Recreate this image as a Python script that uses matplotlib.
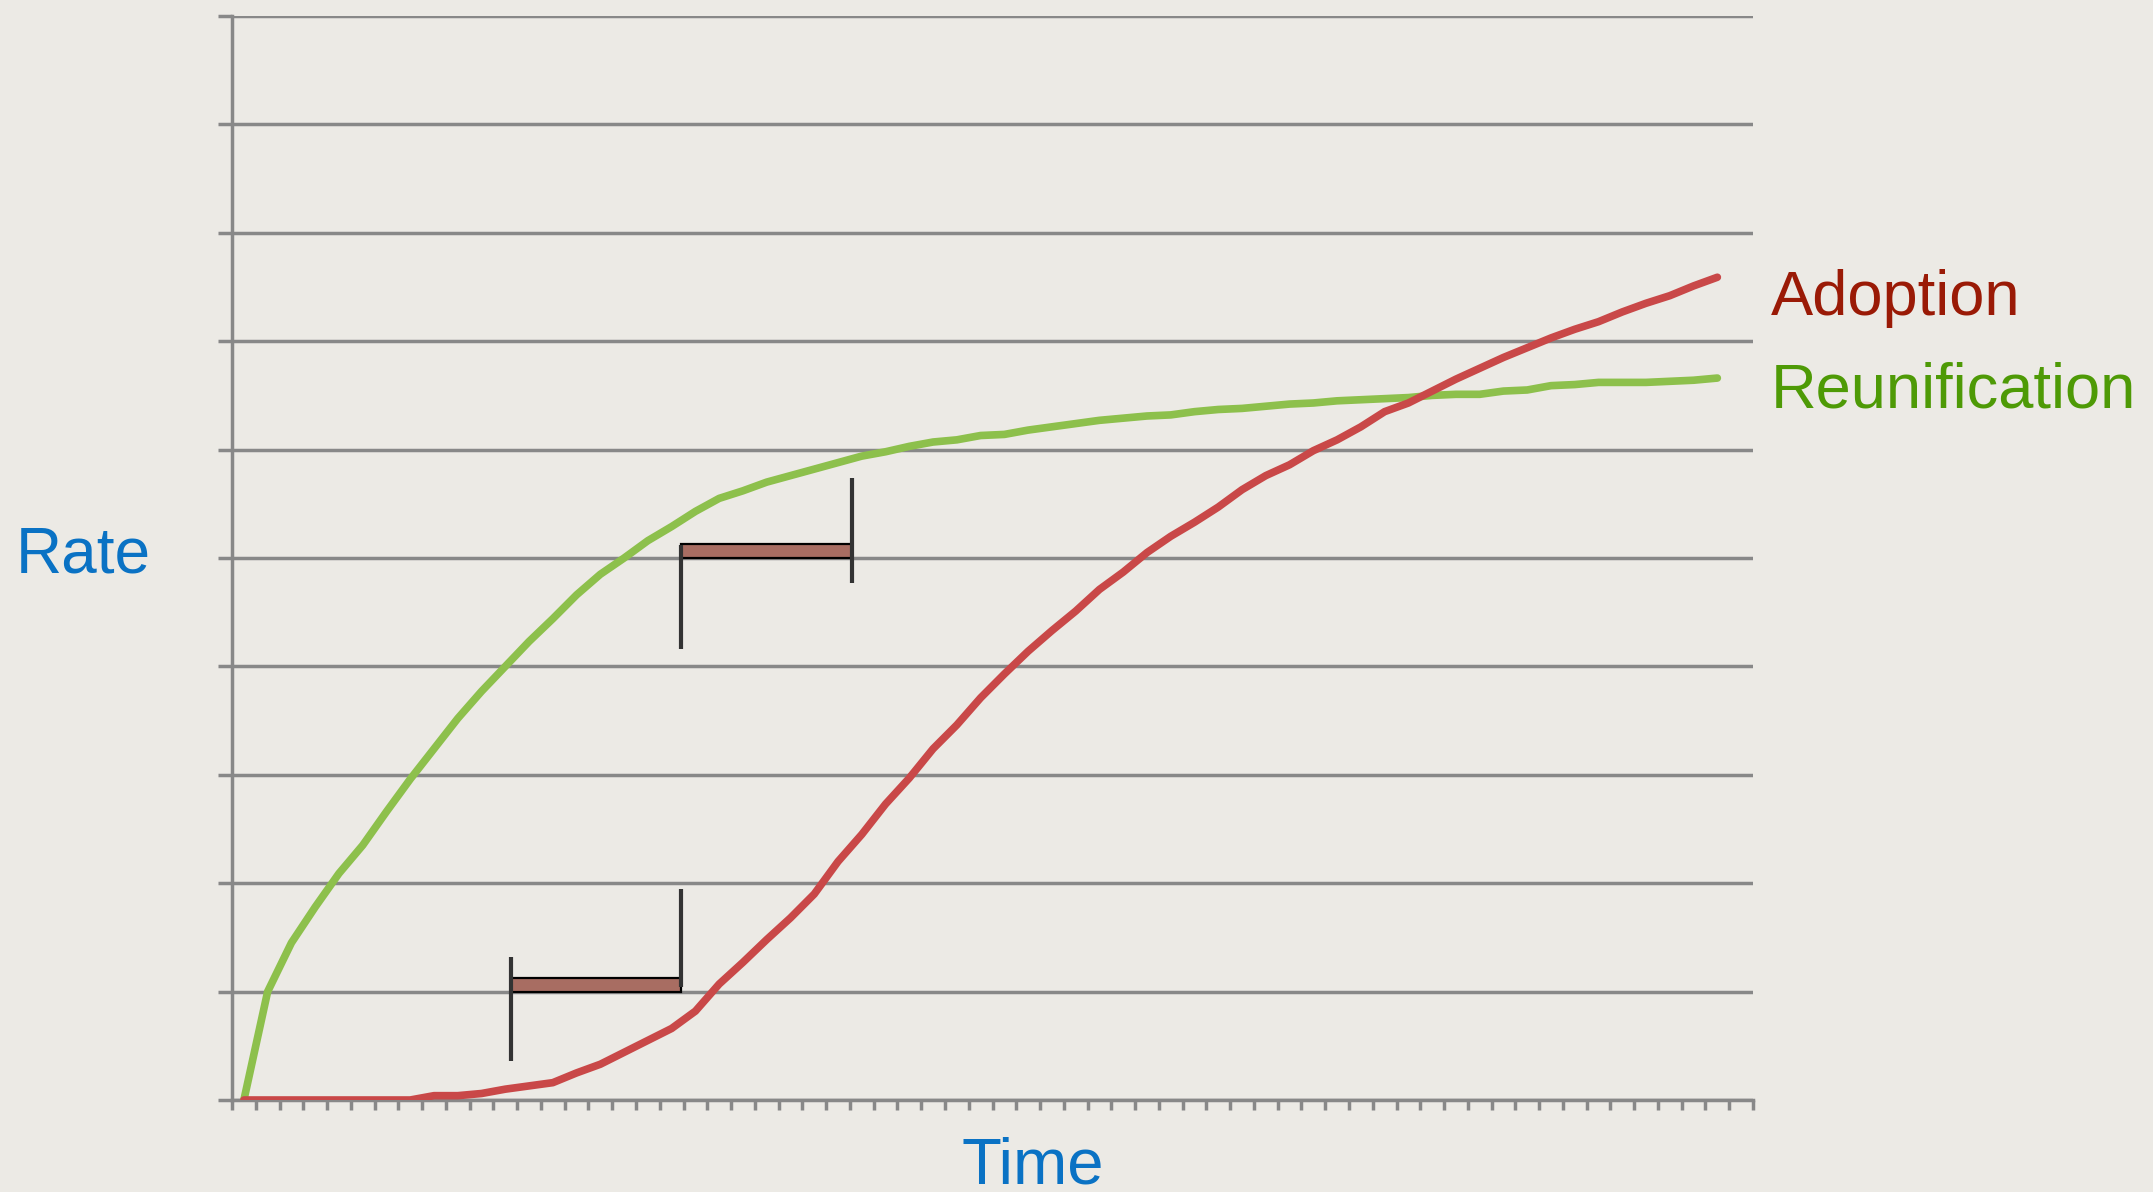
import matplotlib
matplotlib.use("Agg")
import matplotlib.pyplot as plt
import numpy as np
from matplotlib.patches import Rectangle

# ---- data ----
n_categories = 64
adoption = [0, 0, 0, 0, 0, 0, 0, 0, 0.04, 0.04,
            0.06, 0.10, 0.13, 0.16, 0.25, 0.33, 0.44, 0.55, 0.66, 0.82,
            1.07, 1.27, 1.48, 1.68, 1.90, 2.20, 2.45, 2.73, 2.97, 3.24,
            3.46, 3.71, 3.93, 4.14, 4.33, 4.51, 4.71, 4.87, 5.05, 5.20,
            5.33, 5.47, 5.63, 5.76, 5.86, 5.99, 6.09, 6.21, 6.35, 6.43,
            6.54, 6.65, 6.75, 6.85, 6.94, 7.03, 7.11, 7.18, 7.27, 7.35,
            7.42, 7.51, 7.59]
reunification = [0, 1.00, 1.45, 1.78, 2.09, 2.35, 2.66, 2.96, 3.24, 3.52,
                 3.77, 4.00, 4.23, 4.44, 4.66, 4.85, 5.00, 5.16, 5.29, 5.43,
                 5.55, 5.62, 5.70, 5.76, 5.82, 5.88, 5.94, 5.98, 6.03, 6.07,
                 6.09, 6.13, 6.14, 6.18, 6.21, 6.24, 6.27, 6.29, 6.31, 6.32,
                 6.35, 6.37, 6.38, 6.40, 6.42, 6.43, 6.45, 6.46, 6.47, 6.48,
                 6.50, 6.51, 6.51, 6.54, 6.55, 6.59, 6.60, 6.62, 6.62, 6.62,
                 6.63, 6.64, 6.66]
series_labels = ["Adoption", "Reunification"]
y_label = "Rate"
x_label = "Time"

# ---- styling ----
BG = "#ECEAE5"
GRID = "#888888"
RED = "#C94848"
GREEN = "#8DC04C"
RED_TXT = "#9A1A06"
GREEN_TXT = "#4E9A06"
BLUE_TXT = "#0A72C4"
FONT = "Liberation Sans"

fig = plt.figure(figsize=(21.53, 11.92), dpi=100, facecolor=BG)
ax = fig.add_axes([232/2153, 1 - 1100/1192, (1753-232)/2153, (1100-16)/1192])
ax.set_facecolor(BG)

ax.set_xlim(-0.5, n_categories - 0.5)
ax.set_ylim(0, 10)

# horizontal gridlines
for v in range(0, 11):
    ax.axhline(v, color=GRID, lw=2.5, zorder=1, solid_capstyle="butt")

for s in ["top", "right"]:
    ax.spines[s].set_visible(False)
ax.spines["left"].set_color(GRID)
ax.spines["left"].set_linewidth(2.5)
ax.spines["bottom"].set_color(GRID)
ax.spines["bottom"].set_linewidth(2.5)

ax.set_yticks(np.arange(0, 11))
ax.set_xticks(np.arange(n_categories + 1) - 0.5)
ax.tick_params(axis="y", length=10, width=2.5, color=GRID, labelleft=False)
ax.tick_params(axis="x", length=7, width=2.5, color=GRID, labelbottom=False)

x = np.arange(len(adoption))
ax.plot(x, reunification, color=GREEN, lw=5.5, zorder=3, solid_capstyle="round", solid_joinstyle="round")
ax.plot(x, adoption, color=RED, lw=5.5, zorder=3, solid_capstyle="round", solid_joinstyle="round")

# bracket annotations (data coordinates)
def bracket(x0, x1, ybase, h, l_lo, l_hi, r_lo, r_hi):
    ax.add_patch(Rectangle((x0, ybase), x1 - x0, h, facecolor="#A86D62",
                           edgecolor="black", lw=1.6, zorder=5))
    ax.plot([x0, x0], [l_lo, l_hi], color="#333333", lw=3.0, zorder=6, solid_capstyle="butt")
    ax.plot([x1, x1], [r_lo, r_hi], color="#333333", lw=3.0, zorder=6, solid_capstyle="butt")

bracket(11.22, 18.39, 1.0, 0.13, 0.36, 1.32, 1.04, 1.95)
bracket(18.39, 25.6, 5.0, 0.13, 4.16, 5.12, 4.77, 5.74)

# text labels
fig.text(16/2153, 1 - 556/1192, y_label, color=BLUE_TXT, fontsize=46,
         family=FONT, ha="left", va="center")
fig.text(1033/2153, 1 - 1166/1192, x_label, color=BLUE_TXT, fontsize=47,
         family=FONT, ha="center", va="center")
fig.text(1771/2153, 1 - 299/1192, series_labels[0], color=RED_TXT, fontsize=45.5,
         family=FONT, ha="left", va="center")
fig.text(1771/2153, 1 - 391/1192, series_labels[1], color=GREEN_TXT, fontsize=45.5,
         family=FONT, ha="left", va="center")

fig.savefig("out.png", dpi=100, facecolor=BG)
